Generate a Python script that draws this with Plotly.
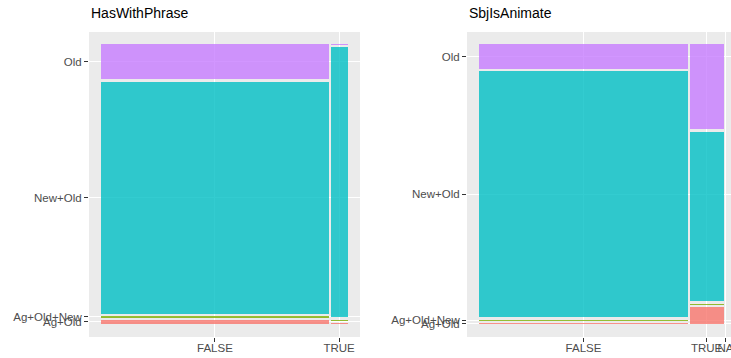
import plotly.graph_objects as go

# Response categories, stacked bottom to top, with ggplot's default hue palette
categories = ["Ag+Old", "Ag+Old+New", "New+Old", "Old"]
colors = ["#F8766D", "#7CAE00", "#00BFC4", "#C77CFF"]

# Panel 1: HasWithPhrase — column widths and within-column proportions
with_levels = ["FALSE", "TRUE"]
with_share = [0.93, 0.07]
with_false = [0.016, 0.004, 0.851, 0.129]
with_true = [0.004, 0.004, 0.988, 0.004]

# Panel 2: SbjIsAnimate
animate_levels = ["FALSE", "TRUE", "NA"]
animate_share = [0.86, 0.14, 0.0]
animate_false = [0.004, 0.004, 0.901, 0.091]
animate_true = [0.063, 0.004, 0.621, 0.312]
animate_na = [0.0, 0.0, 0.0, 0.0]

GAP = 0.008
ALPHA = 0.8
W, H = 731, 358


def rgba(hex_color, a):
    h = hex_color.lstrip("#")
    r, g, b = int(h[0:2], 16), int(h[2:4], 16), int(h[4:6], 16)
    return f"rgba({r},{g},{b},{a})"


def mosaic(shares, props):
    """Return x centres, y tick centres and tile geometry for a mosaic panel."""
    usable_x = 1 - GAP * (len(shares) - 1)
    usable_y = 1 - GAP * (len(categories) - 1)
    x0 = 0.0
    centers, tiles, ytick = [], [], None
    for share, col in zip(shares, props):
        w = share * usable_x
        cx = x0 + w / 2
        centers.append(cx)
        y0 = 0.0
        mids = []
        for k, p in enumerate(col):
            h = p * usable_y
            mids.append(y0 + h / 2)
            if w > 0 and h > 0:
                tiles.append((k, cx, w, y0, h))
            y0 += h + GAP
        if ytick is None:
            ytick = mids
        x0 += w + GAP
    return centers, ytick, tiles


fig = go.Figure()

panels = [
    ("x", "y", "HasWithPhrase", with_levels, with_share, [with_false, with_true]),
    ("x2", "y2", "SbjIsAnimate", animate_levels, animate_share,
     [animate_false, animate_true, animate_na]),
]

layout_axes = {}
domains_x = [[89 / W, 360 / W], [467 / W, 1.0]]
ranges_x = [[-0.05, 1.05], [-0.05, 1.0223]]
domain_y = [21 / H, 326 / H]

tick_font = dict(family="Liberation Sans, Arial, sans-serif", size=11.5, color="#4D4D4D")

for i, (xr, yr, title, levels, shares, props) in enumerate(panels):
    centers, ytick, tiles = mosaic(shares, props)
    for k, cat in enumerate(categories):
        sel = [t for t in tiles if t[0] == k]
        if not sel:
            continue
        fig.add_trace(go.Bar(
            x=[t[1] for t in sel],
            width=[t[2] for t in sel],
            base=[t[3] for t in sel],
            y=[t[4] for t in sel],
            xaxis=xr, yaxis=yr,
            marker=dict(color=rgba(colors[k], ALPHA), line=dict(width=0)),
            name=cat, showlegend=False, hoverinfo="skip",
        ))
    sfx = "" if i == 0 else str(i + 1)
    common = dict(
        ticks="outside", ticklen=4, tickwidth=1, tickcolor="#333333",
        showgrid=True, gridcolor="white", gridwidth=1.1,
        zeroline=False, showline=False, tickfont=tick_font, fixedrange=True,
        ticklabeloverflow="allow", tickangle=0, automargin=False,
    )
    layout_axes["xaxis" + sfx] = dict(
        domain=domains_x[i], range=ranges_x[i], anchor=yr,
        tickmode="array", tickvals=centers, ticktext=levels,
        ticklabelstandoff=-4, **common)
    layout_axes["yaxis" + sfx] = dict(
        domain=domain_y, range=[-0.046, 1.043], anchor=xr,
        tickmode="array", tickvals=ytick, ticktext=categories, **common)
    fig.add_annotation(
        text=title, xref="paper", yref="paper",
        x=domains_x[i][0], y=(H - 3) / H, xanchor="left", yanchor="top",
        showarrow=False,
        font=dict(family="Liberation Sans, Arial, sans-serif", size=14, color="black"),
    )

fig.update_layout(
    width=W, height=H,
    margin=dict(l=0, r=0, t=0, b=0),
    paper_bgcolor="white", plot_bgcolor="#EBEBEB",
    barmode="overlay", bargap=0,
    **layout_axes,
)

fig.write_html("out.html", config={"displayModeBar": False})
